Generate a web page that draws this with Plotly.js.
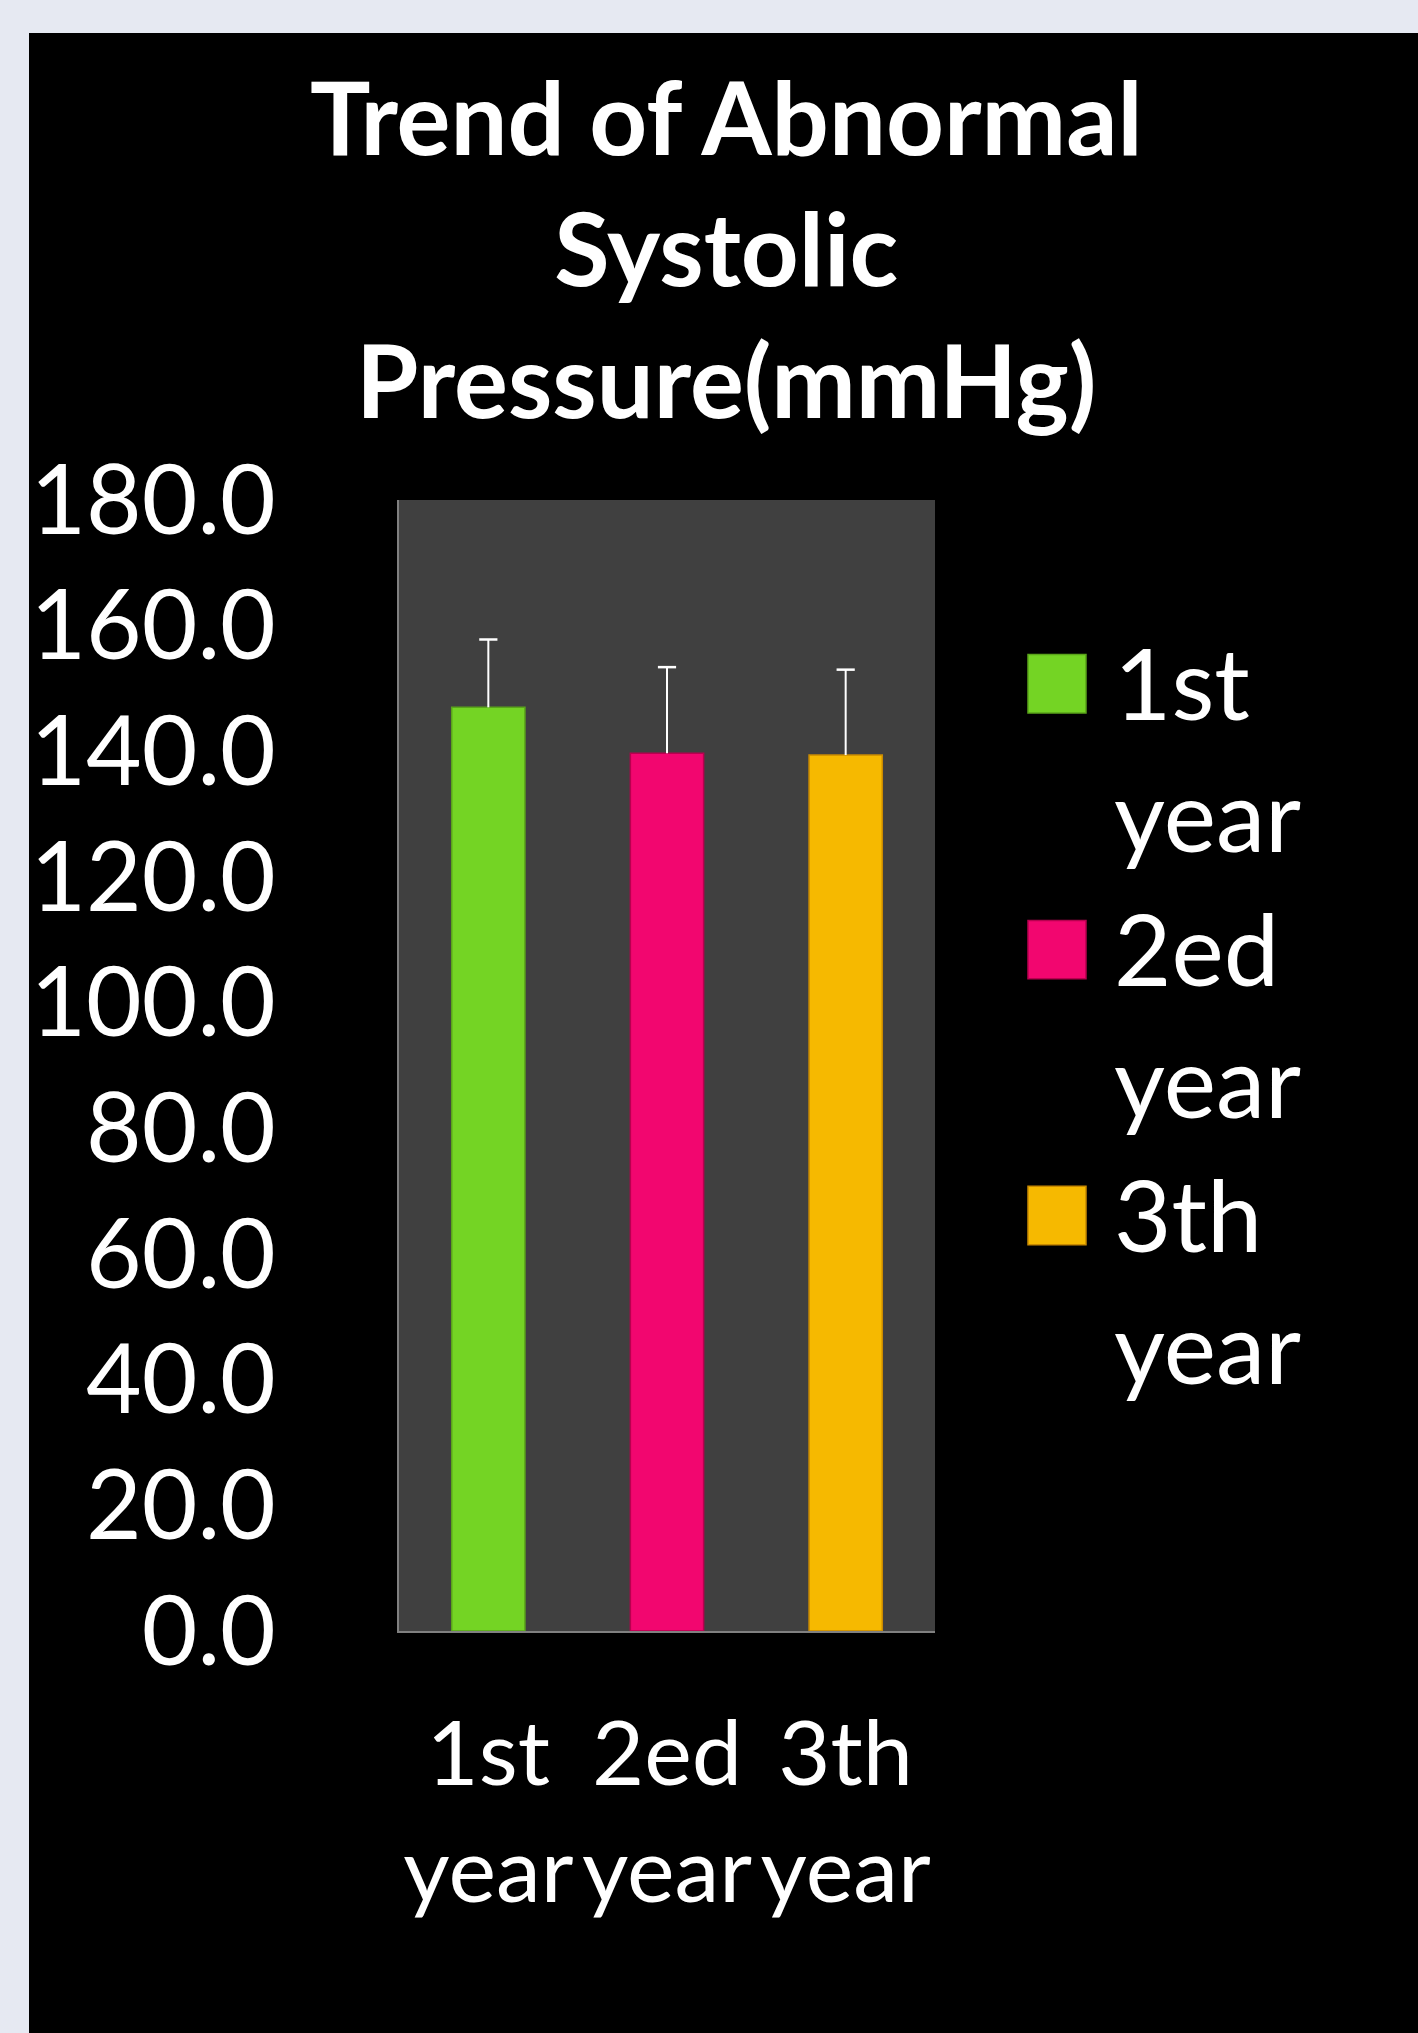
<!DOCTYPE html>
<html>
<head>
<meta charset="utf-8">
<script src="https://cdn.plot.ly/plotly-3.0.1.min.js"></script>
<style>
  html, body { margin: 0; padding: 0; background: #e6e9f2; width: 1418px; height: 2033px; overflow: hidden; }
  #chart { position: absolute; left: 29px; top: 33px; width: 1389px; height: 2000px; }
</style>
</head>
<body>
<div id="chart"></div>
<script>
// ---- data ----
const categories = ["1st year", "2ed year", "3th year"];
const tickLabels = ["1st<br>year", "2ed<br>year", "3th<br>year"];
const values = [147.0, 139.7, 139.4];
const errors = [10.8, 13.7, 13.6];
const colors = ["#74d424", "#f2066f", "#f6b900"];
const edgeColors = ["#5aa41a", "#b8004f", "#c98a00"];
const yTicks = [0, 20, 40, 60, 80, 100, 120, 140, 160, 180];

const FONT = "Lato, 'Open Sans', 'DejaVu Sans', sans-serif";

const traces = [{
  type: "bar",
  x: categories,
  y: values,
  marker: { color: colors, line: { color: edgeColors, width: 1.5 } },
  error_y: {
    type: "data", symmetric: false, array: errors,
    arrayminus: errors.map(() => 0),
    color: "#ffffff", thickness: 2, width: 0
  },
  hoverinfo: "skip",
  showlegend: false
}, {
  // upper caps of the error bars
  type: "scatter", mode: "markers",
  x: categories,
  y: values.map((v, i) => v + errors[i]),
  marker: { symbol: "line-ew-open", size: 13, color: "#ffffff", line: { color: "#ffffff", width: 2.5 } },
  hoverinfo: "skip",
  showlegend: false,
  cliponaxis: false
}];

// custom legend (large swatches)
const shapes = [];
const annotations = [];
const sw0 = 0.8634, swH = 0.0517, step = 0.2351;
categories.forEach((c, i) => {
  const top = sw0 - i * step;
  shapes.push({
    type: "rect", xref: "paper", yref: "paper",
    x0: 1.1735, x1: 1.2817, y0: top - swH, y1: top,
    fillcolor: colors[i], line: { color: edgeColors[i], width: 1.5 }
  });
  const parts = c.split(" ");
  parts.forEach((p, j) => {
    annotations.push({
      xref: "paper", yref: "paper", x: 1.331, xanchor: "left",
      y: (top - swH / 2) + 0.002 - j * 0.1168, yanchor: "middle",
      text: p, showarrow: false,
      font: { family: FONT, size: 99, color: "#ffffff" }
    });
  });
});

const layout = {
  width: 1389, height: 2000,
  paper_bgcolor: "#000000",
  plot_bgcolor: "#404040",
  margin: { l: 370, r: 483, t: 467, b: 401.5, pad: 0 },
  title: {
    text: "<b>Trend of Abnormal<br>Systolic<br>Pressure(mmHg)</b>",
    font: { family: FONT, size: 101, color: "#ffffff" },
    x: 0.502, xref: "container", xanchor: "center",
    y: 0.939, yref: "container", yanchor: "top"
  },
  bargap: 0.59,
  xaxis: {
    type: "category",
    tickvals: categories, ticktext: tickLabels,
    tickfont: { family: FONT, size: 90, color: "#ffffff" },
    showline: true, linecolor: "#808080", linewidth: 2,
    showgrid: false, ticks: "", ticklabelstandoff: 44,
    fixedrange: true
  },
  yaxis: {
    range: [0, 180],
    tickvals: yTicks,
    tickformat: ".1f",
    tickfont: { family: FONT, size: 96, color: "#ffffff" },
    showline: true, linecolor: "#808080", linewidth: 2,
    showgrid: false, zeroline: false, ticks: "",
    ticklabelstandoff: 102,
    fixedrange: true
  },
  shapes: shapes,
  annotations: annotations,
  showlegend: false
};

Plotly.newPlot("chart", traces, layout, { displayModeBar: false, staticPlot: true });
</script>
</body>
</html>
